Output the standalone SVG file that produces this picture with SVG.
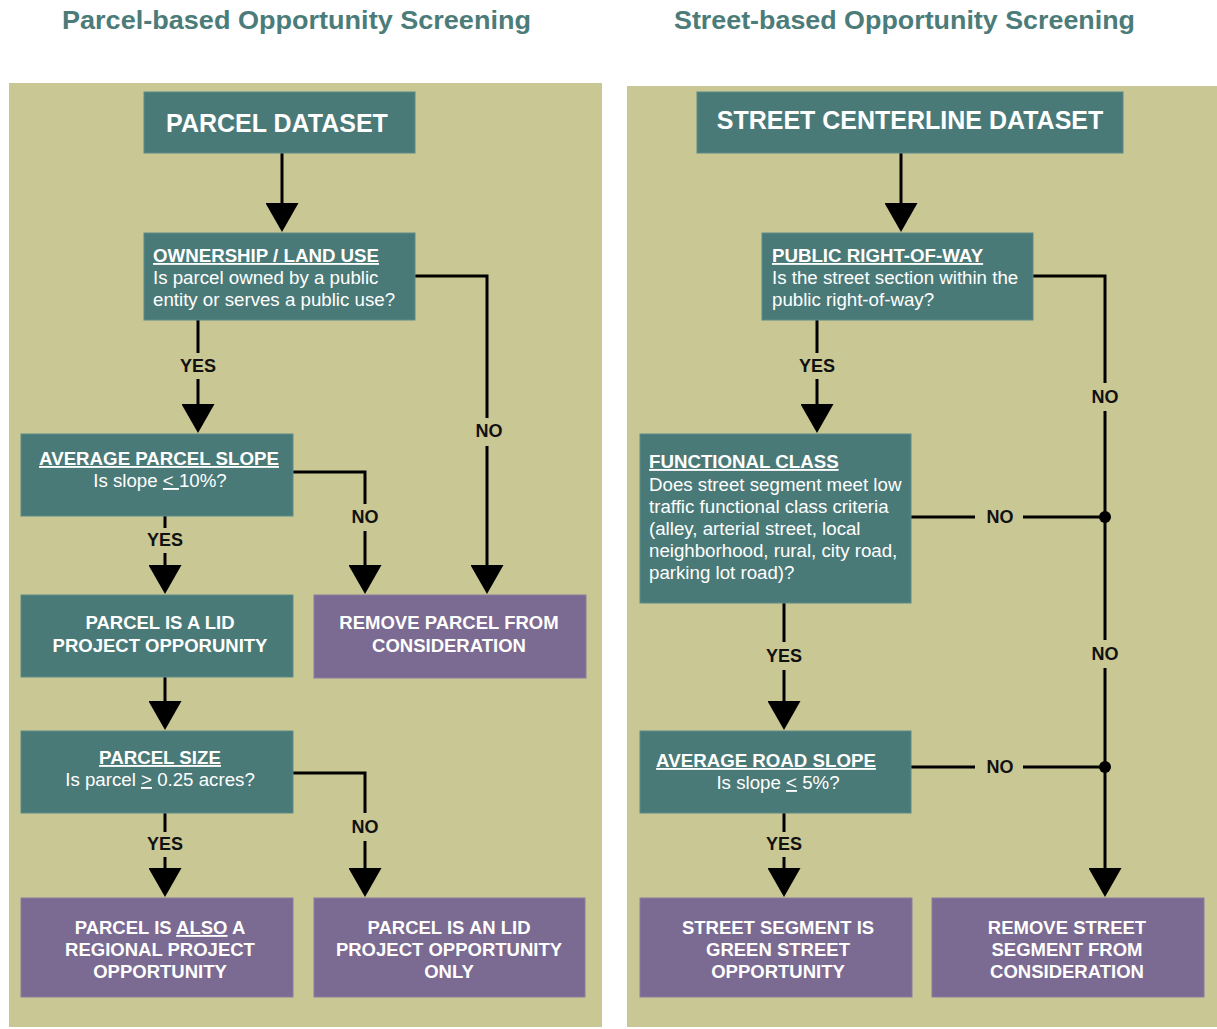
<svg xmlns="http://www.w3.org/2000/svg" width="1217" height="1029" viewBox="0 0 1217 1029">
<defs>
<style>
.panel{fill:#c9c794}
.title{font-family:"Liberation Sans",Arial,sans-serif;font-weight:bold;font-size:26px;fill:#4b7c79}
.teal{fill:#4a7a78;stroke:#5d8b88;stroke-width:1}
.purple{fill:#7b6a91;stroke:#8c7ca2;stroke-width:1}
.nt{font-family:"Liberation Sans",Arial,sans-serif;fill:#ffffff}
.big{font-size:25px;font-weight:bold}
.hd{font-size:18.7px;font-weight:bold;text-decoration:underline}
.bd{font-size:18.7px}
.pb{font-size:18.5px;font-weight:bold}
.c{text-anchor:middle}
.u{text-decoration:underline}
.ln{fill:none;stroke:#000;stroke-width:3}
.arr{marker-end:url(#ah)}
.lbl{font-family:"Liberation Sans",Arial,sans-serif;font-weight:bold;font-size:18px;fill:#111;text-anchor:middle}
</style>
<marker id="ah" viewBox="0 -16.5 29 33" refX="1" refY="0" markerWidth="29" markerHeight="33" markerUnits="userSpaceOnUse" orient="auto">
<path d="M0,-16.5 L29,0 L0,16.5 Z" fill="#000"/>
</marker>
</defs>

<text class="title" x="62" y="29" textLength="469" lengthAdjust="spacingAndGlyphs">Parcel-based Opportunity Screening</text>
<text class="title" x="674" y="29" textLength="461" lengthAdjust="spacingAndGlyphs">Street-based Opportunity Screening</text>

<rect class="panel" x="9" y="83" width="593" height="944"/>
<rect class="panel" x="627" y="86" width="590" height="941"/>

<g id="connectors">
<path class="ln arr" d="M282,153 V204"/>
<path class="ln" d="M198,320 V353"/>
<path class="ln arr" d="M198,379 V405"/>
<text class="lbl" x="198" y="372">YES</text>
<path class="ln" d="M415,276 H487 V418"/>
<path class="ln arr" d="M487,446 V566"/>
<text class="lbl" x="489" y="437">NO</text>
<path class="ln" d="M165,516 V528"/>
<path class="ln arr" d="M165,553 V566"/>
<text class="lbl" x="165" y="546">YES</text>
<path class="ln" d="M293,472 H365 V504"/>
<path class="ln arr" d="M365,531 V566"/>
<text class="lbl" x="365" y="523">NO</text>
<path class="ln arr" d="M165,677 V702"/>
<path class="ln" d="M165,813 V832"/>
<path class="ln arr" d="M165,857 V869"/>
<text class="lbl" x="165" y="850">YES</text>
<path class="ln" d="M293,773 H365 V813"/>
<path class="ln arr" d="M365,841 V869"/>
<text class="lbl" x="365" y="833">NO</text>

<path class="ln arr" d="M901,153 V204"/>
<path class="ln" d="M817,320 V353"/>
<path class="ln arr" d="M817,379 V405"/>
<text class="lbl" x="817" y="372">YES</text>
<path class="ln" d="M1033,276 H1105 V383"/>
<text class="lbl" x="1105" y="403">NO</text>
<path class="ln" d="M1105,411 V640"/>
<text class="lbl" x="1105" y="660">NO</text>
<path class="ln arr" d="M1105,668 V869"/>
<path class="ln" d="M911,517 H975"/>
<text class="lbl" x="1000" y="523">NO</text>
<path class="ln" d="M1023,517 H1105"/>
<circle cx="1105" cy="517" r="6" fill="#000"/>
<path class="ln" d="M784,603 V642"/>
<text class="lbl" x="784" y="662">YES</text>
<path class="ln arr" d="M784,670 V702"/>
<path class="ln" d="M911,767 H975"/>
<text class="lbl" x="1000" y="773">NO</text>
<path class="ln" d="M1023,767 H1105"/>
<circle cx="1105" cy="767" r="6" fill="#000"/>
<path class="ln" d="M784,813 V832"/>
<path class="ln arr" d="M784,857 V869"/>
<text class="lbl" x="784" y="850">YES</text>
</g>

<g id="parcel-dataset">
<rect class="teal" x="144" y="92" width="271" height="61"/>
<text class="nt big c" x="277" y="132">PARCEL DATASET</text>
</g>

<g id="ownership">
<rect class="teal" x="144" y="233" width="271" height="87"/>
<text class="nt hd" x="153" y="262">OWNERSHIP / LAND USE</text>
<text class="nt bd" x="153" y="284">Is parcel owned by a public</text>
<text class="nt bd" x="153" y="306">entity or serves a public use?</text>
</g>

<g id="avg-parcel-slope">
<rect class="teal" x="21" y="434" width="272" height="82"/>
<text class="nt hd c" x="159" y="465">AVERAGE PARCEL SLOPE</text>
<text class="nt bd c" x="160" y="487">Is slope <tspan class="u">&lt; </tspan>10%?</text>
</g>

<g id="lid-opportunity">
<rect class="teal" x="21" y="595" width="272" height="82"/>
<text class="nt pb c" x="160" y="629">PARCEL IS A LID</text>
<text class="nt pb c" x="160" y="652">PROJECT OPPORUNITY</text>
</g>

<g id="remove-parcel">
<rect class="purple" x="314" y="595" width="272" height="83"/>
<text class="nt pb c" x="449" y="629">REMOVE PARCEL FROM</text>
<text class="nt pb c" x="449" y="652">CONSIDERATION</text>
</g>

<g id="parcel-size">
<rect class="teal" x="21" y="731" width="272" height="82"/>
<text class="nt hd c" x="160" y="764">PARCEL SIZE</text>
<text class="nt bd c" x="160" y="786">Is parcel <tspan class="u">&gt;</tspan> 0.25 acres?</text>
</g>

<g id="regional-opportunity">
<rect class="purple" x="21" y="898" width="272" height="99"/>
<text class="nt pb c" x="160" y="934">PARCEL IS <tspan class="u">ALSO</tspan> A</text>
<text class="nt pb c" x="160" y="956">REGIONAL PROJECT</text>
<text class="nt pb c" x="160" y="978">OPPORTUNITY</text>
</g>

<g id="lid-only">
<rect class="purple" x="314" y="898" width="271" height="99"/>
<text class="nt pb c" x="449" y="934">PARCEL IS AN LID</text>
<text class="nt pb c" x="449" y="956">PROJECT OPPORTUNITY</text>
<text class="nt pb c" x="449" y="978">ONLY</text>
</g>

<g id="street-dataset">
<rect class="teal" x="697" y="92" width="426" height="61"/>
<text class="nt big c" x="910" y="129">STREET CENTERLINE DATASET</text>
</g>

<g id="public-row">
<rect class="teal" x="762" y="233" width="271" height="87"/>
<text class="nt hd" x="772" y="262">PUBLIC RIGHT-OF-WAY</text>
<text class="nt bd" x="772" y="284">Is the street section within the</text>
<text class="nt bd" x="772" y="306">public right-of-way?</text>
</g>

<g id="functional-class">
<rect class="teal" x="640" y="434" width="271" height="169"/>
<text class="nt hd" x="649" y="468">FUNCTIONAL CLASS</text>
<text class="nt bd" x="649" y="491">Does street segment meet low</text>
<text class="nt bd" x="649" y="513">traffic functional class criteria</text>
<text class="nt bd" x="649" y="535">(alley, arterial street, local</text>
<text class="nt bd" x="649" y="557">neighborhood, rural, city road,</text>
<text class="nt bd" x="649" y="579">parking lot road)?</text>
</g>

<g id="avg-road-slope">
<rect class="teal" x="640" y="731" width="271" height="82"/>
<text class="nt hd c" x="766" y="767">AVERAGE ROAD SLOPE</text>
<text class="nt bd c" x="778" y="789">Is slope <tspan class="u">&lt;</tspan> 5%?</text>
</g>

<g id="green-street">
<rect class="purple" x="640" y="898" width="272" height="99"/>
<text class="nt pb c" x="778" y="934">STREET SEGMENT IS</text>
<text class="nt pb c" x="778" y="956">GREEN STREET</text>
<text class="nt pb c" x="778" y="978">OPPORTUNITY</text>
</g>

<g id="remove-street">
<rect class="purple" x="932" y="898" width="272" height="99"/>
<text class="nt pb c" x="1067" y="934">REMOVE STREET</text>
<text class="nt pb c" x="1067" y="956">SEGMENT FROM</text>
<text class="nt pb c" x="1067" y="978">CONSIDERATION</text>
</g>
</svg>
